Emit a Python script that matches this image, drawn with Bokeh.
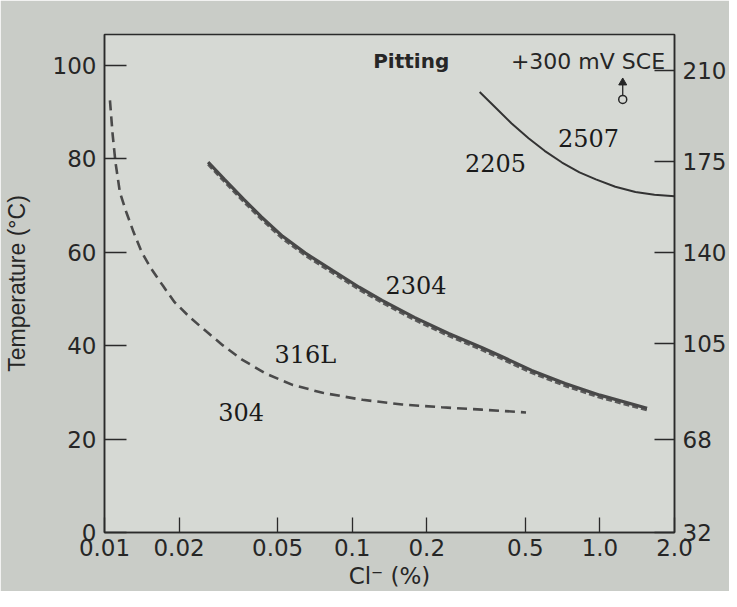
from bokeh.plotting import figure
from bokeh.models import Range1d, LinearAxis, FixedTicker, CustomJSTickFormatter, Label
from bokeh.embed import file_html
from bokeh.resources import INLINE

# ---- data: chloride content (%) vs critical pitting temperature (degC)
cl_316 = [0.01052, 0.01079, 0.01107, 0.01154, 0.01224, 0.01310, 0.01413, 0.01538, 0.01717,
          0.01918, 0.02228, 0.02594, 0.02998, 0.0359, 0.0449, 0.0574, 0.0759, 0.110,
          0.159, 0.230, 0.333, 0.503]
t_316 = [92.5, 85.1, 79.3, 72.8, 68.6, 64.3, 60.0, 56.6, 52.9,
         49.3, 45.9, 42.9, 40.1, 37.0, 34.0, 31.6, 29.9, 28.4,
         27.4, 26.8, 26.3, 25.7]

cl_2304 = [0.0262, 0.0305, 0.0365, 0.0429, 0.0524, 0.0647, 0.0832, 0.1067, 0.132,
           0.179, 0.245, 0.333, 0.389, 0.530, 0.724, 1.0, 1.55]
t_2304 = [79.3, 75.6, 71.3, 67.6, 63.4, 59.8, 56.1, 52.5, 49.7,
          46.0, 42.6, 39.6, 38.0, 34.7, 31.9, 29.4, 26.6]
t_2304_dashed = [78.8, 75.1, 70.8, 67.1, 62.9, 59.3, 55.6, 52.0, 49.2,
                 45.5, 42.1, 39.1, 37.5, 34.2, 31.4, 28.9, 26.2]

cl_2507 = [0.327, 0.375, 0.439, 0.515, 0.598, 0.703, 0.827, 0.963, 1.154, 1.391, 1.66, 2.0]
t_2507 = [94.3, 91.2, 87.6, 84.4, 81.7, 79.2, 77.1, 75.6, 74.0, 72.9, 72.3, 72.0]

x_ticks = [0.01, 0.02, 0.05, 0.1, 0.2, 0.5, 1.0, 2.0]
c_ticks = [0, 20, 40, 60, 80, 100]
f_ticks = [32, 68, 105, 140, 175, 210]

curve_labels = ["2507", "2205", "2304", "316L", "304"]
label_x = [0.90, 0.379, 0.181, 0.0647, 0.0356]
label_y = [84.4, 79.2, 52.9, 38.1, 25.7]

Y_MAX = 106.6
TEXT = "#262626"
AXIS = "#2a2a2a"

p = figure(width=729, height=591, x_axis_type="log",
           x_range=Range1d(0.01, 2.0), y_range=Range1d(0, Y_MAX),
           output_backend="svg", toolbar_location=None,
           min_border_left=103, min_border_right=52, min_border_top=34, min_border_bottom=40)
p.extra_y_ranges = {"F": Range1d(32, 32 + Y_MAX * 1.8)}

p.background_fill_color = "#d6d9d4"
p.border_fill_color = "#c9ccc7"
p.outline_line_color = AXIS
p.outline_line_width = 1.5
p.grid.visible = False

# bottom axis
xa = p.xaxis[0]
xa.ticker = FixedTicker(ticks=x_ticks, minor_ticks=[])
xa.formatter = CustomJSTickFormatter(code="return tick >= 1 ? tick.toFixed(1) : String(tick);")
xa.axis_label = "Cl\u207b (%)"

# left axis
ya = p.yaxis[0]
ya.ticker = FixedTicker(ticks=c_ticks, minor_ticks=[])
ya.axis_label = "Temperature (\u00b0C)"

# right axis in degF
ra = LinearAxis(y_range_name="F", ticker=FixedTicker(ticks=f_ticks, minor_ticks=[]))
p.add_layout(ra, "right")

for ax, tick_len in ((xa, 15), (ya, 22), (ra, 20)):
    ax.axis_line_color = AXIS
    ax.axis_line_width = 1.5
    ax.major_tick_line_color = AXIS
    ax.major_tick_line_width = 1.3
    ax.major_tick_in = tick_len
    ax.major_tick_out = 0
    ax.minor_tick_line_color = None
    ax.major_label_text_font = "DejaVu Sans"
    ax.major_label_text_font_size = "23px"
    ax.major_label_text_color = TEXT
    ax.axis_label_text_font = "Liberation Sans"
    ax.axis_label_text_font_size = "23px"
    ax.axis_label_text_font_style = "normal"
    ax.axis_label_text_color = TEXT

xa.major_label_standoff = 6
xa.axis_label_standoff = 4
xa.axis_label_text_font = "DejaVu Sans"
ya.major_label_standoff = 8
ya.axis_label_standoff = 20
ra.major_label_standoff = 8

# curves
p.line(cl_316, t_316, line_color="#4a4a4a", line_width=2.6, line_dash="10 6")
p.line(cl_2304, t_2304_dashed, line_color="#5a5a5a", line_width=2.8, line_dash="6 3")
p.line(cl_2304, t_2304, line_color="#484848", line_width=3.2)
p.line(cl_2507, t_2507, line_color="#333333", line_width=2.0)

# curve labels
for txt, lx, ly in zip(curve_labels, label_x, label_y):
    p.add_layout(Label(x=lx, y=ly, text=txt, text_font="DejaVu Serif",
                       text_font_size="24px", text_color="#1a1a1a",
                       text_align="center", text_baseline="middle"))

p.add_layout(Label(x=0.173, y=100.9, text="Pitting", text_font="DejaVu Sans",
                   text_font_style="bold", text_font_size="20px", text_color=TEXT,
                   text_align="center", text_baseline="middle"))
p.add_layout(Label(x=0.895, y=100.9, text="+300 mV SCE", text_font="DejaVu Sans",
                   text_font_size="22px", text_color=TEXT,
                   text_align="center", text_baseline="middle"))

# small arrow and circle symbol under the potential note
p.segment(x0=[1.236], y0=[93.6], x1=[1.236], y1=[96.0], line_color=TEXT, line_width=1.3)
p.scatter(x=[1.236], y=[96.3], marker="triangle", size=8, fill_color=TEXT, line_color=TEXT)
p.scatter(x=[1.236], y=[92.7], marker="circle", size=8, fill_color=None,
          line_color=TEXT, line_width=1.5)

open("out.html", "w").write(file_html(p, INLINE))
